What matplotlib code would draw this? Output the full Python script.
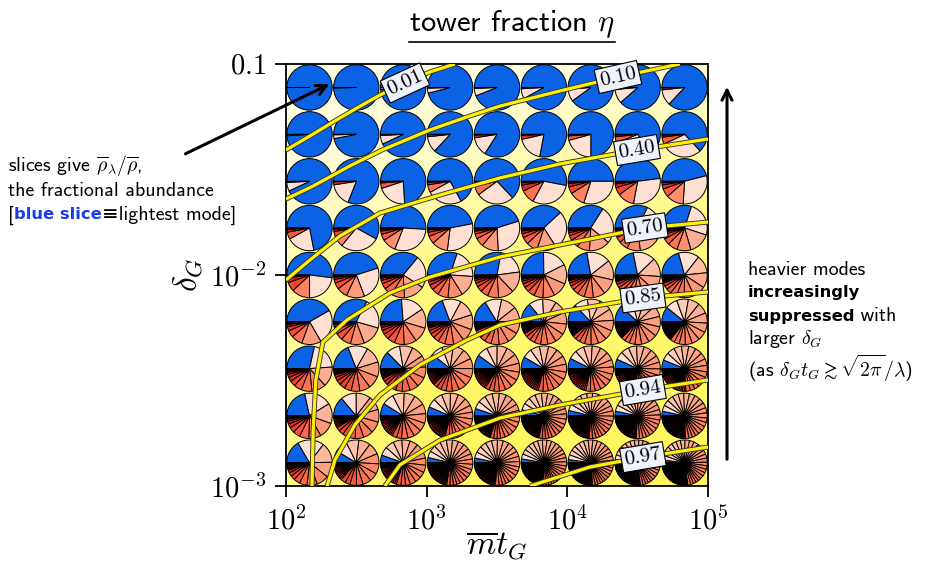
import numpy as np
import matplotlib
matplotlib.use('Agg')
import matplotlib.pyplot as plt
import matplotlib.transforms as mtransforms
import matplotlib.patheffects as pe
from matplotlib.patches import Wedge, FancyArrowPatch
from matplotlib.lines import Line2D
from matplotlib.colors import LinearSegmentedColormap
from matplotlib.offsetbox import TextArea, HPacker, AnchoredOffsetbox

plt.rcParams['font.family'] = ['cmss10', 'DejaVu Sans']
plt.rcParams['mathtext.fontset'] = 'cm'
plt.rcParams['axes.unicode_minus'] = False

# ---------------- data ----------------
# pie grid centres
mt_centers = [147, 316, 681, 1468, 3162, 6813, 14678, 31623, 68129]
delta_rows = [0.0774, 0.0464, 0.0278, 0.0167, 0.0100, 0.0060, 0.0036, 0.00215, 0.00129]

# share of the lightest mode (blue slice), in %, rows top -> bottom
blue_share = [
    [100, 99.6, 98.5, 96, 94, 92, 90, 88.5, 87],
    [99, 97, 93, 87, 84, 78, 75, 67, 63],
    [93, 81, 74, 67, 63, 53, 50, 48, 46],
    [72, 58, 51, 47, 45, 38, 34, 32, 30],
    [52, 45, 36, 30, 28, 25, 22, 22, 21],
    [42, 33, 24, 20, 17, 15, 14, 13, 12],
    [28, 19, 13, 11, 10, 8.5, 7.5, 7, 6.5],
    [21, 12.5, 8, 6, 5, 4, 3.5, 3, 3],
    [15, 8, 5, 3.5, 3, 2.5, 2, 2, 1.8],
]

# heavier modes, lightest first: (number of slices, share in % of each)
heavier_r1 = [
    [], [(1, 0.4)], [(1, 1.3), (1, 0.2)], [(1, 3.5), (1, 0.5)], [(1, 5.3), (1, 0.7)],
    [(1, 7.1), (1, 0.9)], [(1, 8.8), (1, 1.0), (1, 0.2)], [(1, 10.1), (1, 1.2), (1, 0.2)],
    [(1, 11.3), (1, 1.4), (1, 0.3)],
]
heavier_r2 = [
    [(1, 1.0)], [(1, 2.7), (1, 0.3)], [(1, 6.2), (1, 0.8)], [(1, 11.3), (1, 1.4), (1, 0.3)],
    [(1, 13.6), (1, 1.9), (1, 0.5)], [(1, 18.5), (1, 2.7), (1, 0.8)],
    [(1, 20.8), (1, 3.1), (1, 0.9), (1, 0.2)], [(1, 27), (1, 4.3), (1, 1.3), (1, 0.4)],
    [(1, 30), (1, 5), (1, 1.5), (1, 0.5)],
]
heavier_r3 = [
    [(1, 6.2), (1, 0.8)], [(1, 16.5), (1, 2.2), (1, 0.3)], [(1, 21), (1, 3.8), (1, 1.0), (1, 0.2)],
    [(1, 25), (1, 5.5), (1, 1.8), (1, 0.5), (1, 0.2)], [(1, 27), (1, 6.5), (1, 2.4), (1, 0.8), (1, 0.3)],
    [(1, 30), (1, 10), (1, 4.3), (1, 1.9), (1, 0.8)],
    [(1, 30), (1, 11), (1, 5), (1, 2.4), (1, 1.1), (1, 0.5)],
    [(1, 30), (1, 12), (1, 5.5), (1, 2.7), (1, 1.2), (1, 0.6)],
    [(1, 30), (1, 12.5), (1, 6), (1, 3), (1, 1.5), (1, 0.7), (1, 0.3)],
]
heavier_r4 = [
    [(1, 20), (1, 5), (1, 2), (1, 1)],
    [(1, 28), (1, 8), (1, 3.5), (1, 1.5), (1, 0.7), (1, 0.3)],
    [(1, 30), (1, 10), (1, 4.5), (1, 2.4), (1, 1.2), (1, 0.6), (1, 0.3)],
    [(1, 30), (1, 11.5), (1, 5.5), (1, 3), (1, 1.6), (1, 0.8), (2, 0.3)],
    [(1, 29), (1, 12), (1, 6), (1, 3.5), (1, 2), (1, 1.1), (1, 0.6), (2, 0.3)],
    [(1, 28), (1, 14), (1, 8), (1, 5), (1, 3), (1, 1.8), (1, 1.0), (3, 0.4)],
    [(1, 27), (1, 15), (1, 9), (1, 6), (1, 3.5), (1, 2.2), (1, 1.3), (1, 0.8), (3, 0.4)],
    [(1, 26), (1, 15), (1, 9.5), (1, 6.5), (1, 4), (1, 2.5), (1, 1.6), (1, 1), (4, 0.4)],
    [(1, 25), (1, 15.5), (1, 10), (1, 7), (1, 4.5), (1, 3), (1, 1.8), (1, 1.2), (5, 0.4)],
]
heavier_r5 = [
    [(1, 23), (1, 13), (1, 6.5), (1, 3.5), (1, 1.5), (1, 0.5)],
    [(1, 24), (1, 13), (1, 7.5), (1, 4.5), (1, 2.6), (1, 1.5), (1, 0.9), (2, 0.4)],
    [(1, 23), (1, 15), (1, 9.5), (1, 6), (1, 4), (1, 2.5), (1, 1.6), (1, 1), (3, 0.4)],
    [(1, 21), (1, 15), (1, 10.5), (1, 7.5), (1, 5), (1, 3.5), (1, 2.5), (1, 1.7), (1, 1.2), (4, 0.5)],
    [(1, 20), (1, 15), (1, 11), (1, 8), (1, 5.5), (1, 4), (1, 2.8), (1, 2), (1, 1.4), (5, 0.5)],
    [(1, 18), (1, 14), (1, 11), (1, 8.5), (1, 6.5), (1, 5), (1, 3.7), (1, 2.8), (1, 2), (1, 1.5), (6, 0.5)],
    [(1, 17), (1, 14), (1, 11), (1, 8.5), (1, 6.5), (1, 5), (1, 4), (1, 3), (1, 2.3), (1, 1.7), (8, 0.5)],
    [(1, 16), (1, 13.5), (1, 11), (1, 9), (1, 7), (1, 5.5), (1, 4.2), (1, 3.2), (1, 2.5), (1, 1.9), (10, 0.5)],
    [(1, 15), (1, 13), (1, 11), (1, 9), (1, 7.2), (1, 5.8), (1, 4.6), (1, 3.6), (1, 2.8), (1, 2.2), (12, 0.5)],
]
heavier_r6 = [
    [(1, 25), (1, 14), (1, 8), (1, 5), (1, 3), (1, 1.7), (1, 1), (2, 0.4)],
    [(1, 22), (1, 15), (1, 10), (1, 7), (1, 5), (1, 3.3), (1, 2.2), (1, 1.4), (1, 0.9), (3, 0.4)],
    [(1, 17), (1, 14), (1, 11), (1, 9), (1, 7), (1, 5.5), (1, 4), (1, 3), (1, 2.2), (1, 1.6), (5, 0.5)],
    [(1, 14), (1, 12.5), (1, 11), (1, 9.5), (1, 8), (1, 6.5), (1, 5.2), (1, 4.2), (1, 3.3), (1, 2.6),
     (1, 2), (6, 0.6), (4, 0.25)],
    [(1, 12.5), (1, 11.5), (1, 10.5), (1, 9.5), (1, 8.5), (1, 7.2), (1, 6), (1, 5), (1, 4), (1, 3.2),
     (1, 2.5), (8, 0.7), (5, 0.25)],
    [(1, 11), (1, 10.5), (1, 10), (1, 9), (1, 8.3), (1, 7.4), (1, 6.5), (1, 5.6), (1, 4.8), (1, 4),
     (1, 3.3), (1, 2.7), (10, 0.8), (6, 0.25)],
    [(1, 10.5), (1, 10), (1, 9.5), (1, 9), (1, 8.2), (1, 7.4), (1, 6.6), (1, 5.8), (1, 5), (1, 4.2),
     (1, 3.5), (1, 2.9), (12, 0.8), (8, 0.25)],
    [(1, 10), (1, 9.5), (1, 9.2), (1, 8.8), (1, 8.2), (1, 7.5), (1, 6.8), (1, 6), (1, 5.2), (1, 4.5),
     (1, 3.8), (1, 3.2), (14, 0.8), (10, 0.25)],
    [(1, 9.5), (1, 9.2), (1, 9), (1, 8.6), (1, 8.1), (1, 7.5), (1, 6.9), (1, 6.2), (1, 5.5), (1, 4.8),
     (1, 4.1), (1, 3.5), (16, 0.8), (12, 0.25)],
]
heavier_r7 = [
    [(1, 20), (1, 14), (1, 10), (1, 7.5), (1, 5.5), (1, 4), (1, 3), (1, 2.2), (1, 1.5), (1, 1), (3, 0.5)],
    [(1, 14), (1, 12), (1, 10.5), (1, 9), (1, 7.5), (1, 6.2), (1, 5), (1, 4), (1, 3.2), (1, 2.5),
     (1, 1.9), (4, 0.9), (3, 0.3)],
    [(1, 10), (1, 9.5), (1, 9), (1, 8.5), (1, 8), (1, 7.2), (1, 6.5), (1, 5.7), (1, 4.9), (1, 4.1),
     (1, 3.4), (1, 2.8), (1, 2.2), (6, 1.0), (5, 0.3)],
    [(1, 8.5), (1, 8.2), (1, 8), (1, 7.7), (1, 7.3), (1, 6.8), (1, 6.3), (1, 5.7), (1, 5.1), (1, 4.5),
     (1, 3.9), (1, 3.3), (1, 2.8), (8, 1.2), (8, 0.35)],
    [(1, 7.8), (1, 7.6), (1, 7.4), (1, 7.1), (1, 6.8), (1, 6.4), (1, 6), (1, 5.5), (1, 5), (1, 4.5),
     (1, 4), (1, 3.5), (1, 3), (10, 1.3), (10, 0.35)],
    [(1, 6.8), (1, 6.7), (1, 6.6), (1, 6.4), (1, 6.2), (1, 6), (1, 5.7), (1, 5.4), (1, 5.1), (1, 4.7),
     (1, 4.3), (1, 3.9), (1, 3.5), (12, 1.4), (12, 0.35)],
    [(2, 6.4), (2, 6.2), (2, 5.8), (2, 5.4), (2, 4.8), (2, 4.2), (2, 3.5), (12, 1.4), (14, 0.35)],
    [(3, 6.0), (3, 5.6), (3, 5.0), (3, 4.2), (3, 3.3), (14, 1.3), (16, 0.35)],
    [(3, 5.8), (3, 5.4), (3, 4.9), (3, 4.2), (3, 3.4), (16, 1.3), (18, 0.35)],
]
heavier_r8 = [
    [(1, 19), (1, 14), (1, 11), (1, 8.5), (1, 6.5), (1, 5), (1, 3.8), (1, 2.8), (1, 2), (1, 1.4),
     (3, 0.6), (2, 0.25)],
    [(1, 10), (1, 9.5), (1, 9), (1, 8.2), (1, 7.3), (1, 6.4), (1, 5.5), (1, 4.6), (1, 3.8), (1, 3.1),
     (1, 2.5), (6, 1.0), (6, 0.3)],
    [(2, 7.5), (2, 7.0), (2, 6.2), (2, 5.2), (2, 4.1), (2, 3.1), (10, 1.2), (10, 0.3)],
    [(3, 5.8), (3, 5.3), (3, 4.6), (3, 3.8), (3, 2.9), (14, 1.1), (14, 0.3)],
    [(3, 5.2), (3, 4.9), (3, 4.4), (3, 3.8), (3, 3.1), (3, 2.4), (16, 0.9), (16, 0.3)],
    [(4, 4.3), (4, 4.0), (4, 3.5), (4, 2.9), (4, 2.2), (18, 0.8), (20, 0.25)],
    [(4, 4.1), (4, 3.8), (4, 3.4), (4, 2.8), (4, 2.2), (20, 0.8), (22, 0.25)],
    [(4, 4.0), (4, 3.8), (4, 3.4), (4, 2.9), (4, 2.3), (22, 0.7), (24, 0.25)],
    [(4, 3.9), (4, 3.7), (4, 3.4), (4, 2.9), (4, 2.3), (24, 0.7), (26, 0.25)],
]
heavier_r9 = [
    [(1, 17), (1, 13), (1, 10), (1, 8), (1, 6.5), (1, 5), (1, 4), (1, 3), (1, 2.3), (1, 1.7),
     (4, 0.9), (4, 0.35)],
    [(2, 8.5), (2, 7.8), (2, 6.8), (2, 5.6), (2, 4.4), (2, 3.3), (8, 1.2), (8, 0.35)],
    [(3, 5.8), (3, 5.4), (3, 4.8), (3, 4.0), (3, 3.1), (12, 1.2), (14, 0.3)],
    [(4, 4.4), (4, 4.1), (4, 3.6), (4, 3.0), (4, 2.3), (18, 0.9), (20, 0.25)],
    [(4, 4.0), (4, 3.8), (4, 3.4), (4, 2.9), (4, 2.3), (20, 0.8), (22, 0.25)],
    [(5, 3.3), (5, 3.1), (5, 2.8), (5, 2.4), (5, 1.9), (24, 0.7), (26, 0.22)],
    [(5, 3.2), (5, 3.0), (5, 2.7), (5, 2.3), (5, 1.8), (26, 0.7), (28, 0.2)],
    [(5, 3.1), (5, 2.9), (5, 2.7), (5, 2.3), (5, 1.8), (28, 0.65), (30, 0.2)],
    [(5, 3.0), (5, 2.9), (5, 2.6), (5, 2.3), (5, 1.8), (30, 0.6), (32, 0.2)],
]
heavier_rows = [heavier_r1, heavier_r2, heavier_r3, heavier_r4, heavier_r5,
                heavier_r6, heavier_r7, heavier_r8, heavier_r9]

# background: tower fraction eta
bg_mt = [1e2, 1e3, 1e4, 1e5]
bg_delta = [1e-3, 3.16e-3, 1e-2, 3.16e-2, 1e-1]
bg_eta = [
    [0.65, 0.955, 0.972, 0.98],
    [0.60, 0.88, 0.93, 0.94],
    [0.39, 0.70, 0.77, 0.80],
    [0.05, 0.25, 0.42, 0.52],
    [0.00, 0.008, 0.05, 0.12],
]

# eta contours
eta_labels = ['0.01', '0.10', '0.40', '0.70', '0.85', '0.94', '0.97']
eta001_mt = [100, 148, 216, 320, 466, 701, 1056, 1589]
eta001_delta = [0.0391, 0.0456, 0.0531, 0.0619, 0.0713, 0.0813, 0.0917, 0.100]
eta010_mt = [100, 156, 285, 481, 1055, 1934, 3319, 8857, 22900, 63100]
eta010_delta = [0.0229, 0.0264, 0.0329, 0.0391, 0.0487, 0.0561, 0.0632, 0.0745, 0.0868, 0.100]
eta040_mt = [100, 148, 242, 466, 1243, 3319, 8857, 31260, 100000]
eta040_delta = [0.00947, 0.01178, 0.01531, 0.01967, 0.02393, 0.02884, 0.0336, 0.0391, 0.0441]
eta070_mt = [153, 156, 163, 183, 271, 548, 1055, 3319, 10430, 35600, 100000]
eta070_delta = [0.0010, 0.00184, 0.00318, 0.00481, 0.00612, 0.00822, 0.00978, 0.01217, 0.01418,
                0.01670, 0.01782]
eta085_mt = [196, 223, 309, 466, 896, 1934, 3319, 8857, 34450, 100000]
eta085_delta = [0.0010, 0.00133, 0.00195, 0.00270, 0.00375, 0.00492, 0.00579, 0.00668, 0.00778, 0.00831]
eta094_mt = [505, 646, 1243, 3319, 8857, 34450, 100000]
eta094_delta = [0.0010, 0.00126, 0.00165, 0.00210, 0.00242, 0.00285, 0.00318]
eta097_mt = [5420, 14480, 34450, 100000]
eta097_delta = [0.0010, 0.00123, 0.00137, 0.00153]
label_mt = [701, 22900, 31260, 35600, 34450, 34450, 34450]
label_delta = [0.0813, 0.0868, 0.0391, 0.0167, 0.00778, 0.00285, 0.00137]

# ---------------- figure ----------------
fig = plt.figure(figsize=(9.43, 5.63), dpi=100)
ax = fig.add_axes([286 / 943, 77 / 563, 422 / 943, 422 / 563])
ax.set_xscale('log')
ax.set_yscale('log')
ax.set_xlim(1e2, 1e5)
ax.set_ylim(1e-3, 1e-1)
ax.set_autoscale_on(False)

# background
bg_cmap = LinearSegmentedColormap.from_list('eta', ['#fffce4', '#fffbb6', '#fff987', '#fff65c'])
X, Y = np.meshgrid(bg_mt, bg_delta)
ax.pcolormesh(X, Y, np.array(bg_eta), shading='gouraud', cmap=bg_cmap, vmin=0, vmax=1, zorder=0)

# pies
blue = '#0b62e4'
reds = plt.get_cmap('Reds')
R = 0.227  # inches
for delta, blues, heavy in zip(delta_rows, blue_share, heavier_rows):
    for mt, b, groups in zip(mt_centers, blues, heavy):
        shares = [b]
        for n, s in groups:
            shares += [s] * n
        shares = np.array(shares, dtype=float)
        shares /= shares.sum()
        m = len(shares) - 1
        cols = [blue] + [reds(0.12 + 0.86 * (k / max(m - 1, 1)) ** 0.65) for k in range(m)]
        trans = fig.dpi_scale_trans + mtransforms.ScaledTranslation(mt, delta, ax.transData)
        start = 180.0
        for f, col in zip(shares, cols):
            span = min(360.0 * f, 359.99)
            ax.add_patch(Wedge((0, 0), R, start - span, start, facecolor=col,
                               edgecolor='k', linewidth=0.7, transform=trans, zorder=2))
            start -= span

# contour lines
paths = [(eta001_mt, eta001_delta), (eta010_mt, eta010_delta), (eta040_mt, eta040_delta),
         (eta070_mt, eta070_delta), (eta085_mt, eta085_delta), (eta094_mt, eta094_delta),
         (eta097_mt, eta097_delta)]
for (xs, ys), lab, lx, ly in zip(paths, eta_labels, label_mt, label_delta):
    ax.plot(xs, ys, color='#fff200', lw=2.3, zorder=3, solid_capstyle='butt',
            path_effects=[pe.Stroke(linewidth=3.6, foreground='#333333'), pe.Normal()])
    pts = ax.transData.transform(np.column_stack([xs, ys]))
    idx = int(np.searchsorted(xs, lx))
    i0, i1 = max(idx - 1, 0), min(idx + 1, len(xs) - 1)
    ang = np.degrees(np.arctan2(pts[i1, 1] - pts[i0, 1], pts[i1, 0] - pts[i0, 0]))
    ax.text(lx, ly, lab, family='cmr10', fontsize=15, rotation=ang, rotation_mode='anchor',
            ha='center', va='center', zorder=5,
            bbox=dict(boxstyle='square,pad=0.15', fc='#eef2fb', ec='k', lw=0.8))

# axes styling
ax.set_xticks([1e2, 1e3, 1e4, 1e5], labels=[r'$10^{2}$', r'$10^{3}$', r'$10^{4}$', r'$10^{5}$'])
ax.set_yticks([1e-3, 1e-2, 1e-1], labels=[r'$10^{-3}$', r'$10^{-2}$', r'$0.1$'])
ax.minorticks_off()
ax.tick_params(direction='out', length=8, width=1.3, labelsize=20.5, pad=6)
for sp in ax.spines.values():
    sp.set_linewidth(1.3)
ax.set_xlabel(r'$\overline{m}t_G$', fontsize=24, labelpad=-3)
ax.set_ylabel(r'$\delta_G$', fontsize=24, labelpad=4)

# title with underline
title = fig.text(512 / 943, 1 - 24 / 563, r'tower fraction $\eta$', ha='center', va='center',
                 fontsize=22)
fig.canvas.draw()
bb = title.get_window_extent()
fig.add_artist(Line2D([bb.x0, bb.x1], [563 - 42, 563 - 42], transform=None, color='k', lw=1.2))

# annotations: one packed line per text row, placed by its vertical centre
fs = 14.3
plain = dict(fontsize=fs)
bold = dict(family='DejaVu Sans', weight='bold', fontsize=11.8)


def text_line(parts, x_px, y_px):
    row = HPacker(children=[TextArea(t, textprops=p) for t, p in parts], align='baseline', pad=0, sep=0)
    box = AnchoredOffsetbox(loc='center left', child=row, pad=0, borderpad=0, frameon=False,
                            bbox_to_anchor=(x_px / 943, 1 - y_px / 563), bbox_transform=fig.transFigure)
    fig.add_artist(box)


left_text = [
    [(r'slices give $\overline{\rho}_\lambda/\overline{\rho}$,', plain)],
    [('the fractional abundance', plain)],
    [('[', plain), ('blue slice', dict(color='#1a3cf0', **bold)), ('\u2261lightest mode]', plain)],
]
for parts, y in zip(left_text, [166, 191, 215]):
    text_line(parts, 8, y)

right_text = [
    [('heavier modes', plain)],
    [('increasingly', bold)],
    [('suppressed', bold), (' with', plain)],
    [(r'larger $\delta_G$', plain)],
    [(r'(as $\delta_G t_G \gtrsim \sqrt{2\pi}/\lambda$)', plain)],
]
for parts, y in zip(right_text, [270, 293, 316, 339, 368]):
    text_line(parts, 748, y)

ax.annotate('', xy=(212, 0.0813), xycoords='data', xytext=(183, 563 - 155), textcoords='figure pixels',
            arrowprops=dict(arrowstyle='->', lw=2.2, color='k', mutation_scale=18), zorder=6,
            annotation_clip=False)
fig.add_artist(FancyArrowPatch((727, 563 - 462), (727, 563 - 84), transform=None,
                               arrowstyle='->', lw=2.2, color='k', mutation_scale=18))

fig.savefig('out.png', dpi=100)
